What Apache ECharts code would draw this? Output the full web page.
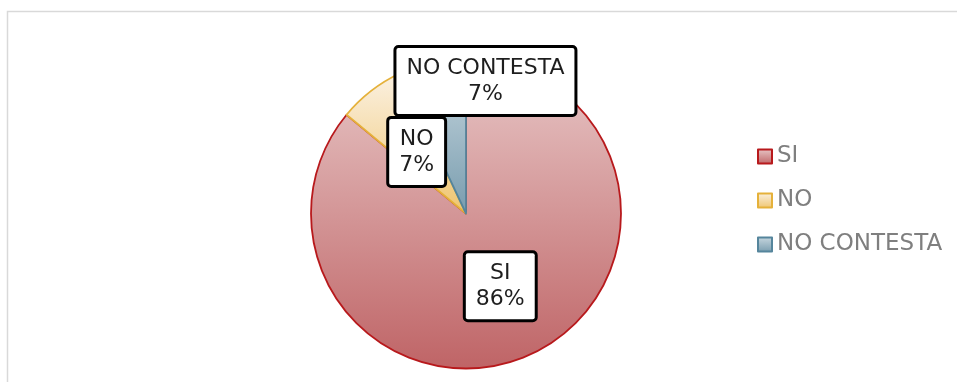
<!DOCTYPE html>
<html>
<head>
<meta charset="utf-8">
<script src="https://cdn.jsdelivr.net/npm/echarts@6/dist/echarts.min.js"></script>
<style>
html,body{margin:0;padding:0;background:#fff;}
#c{width:957px;height:382px;}
</style>
</head>
<body>
<div id="c"></div>
<script>
const categories = ['SI', 'NO', 'NO CONTESTA'];
const values = [86, 7, 7];

const fills = [
  ['#e8c8c8', '#bf6466'],
  ['#fbf1e2', '#efc56e'],
  ['#c9d8e0', '#789cae']
];
const borders = ['#b8191c', '#e5b13a', '#55859c'];

function grad(c) {
  return new echarts.graphic.LinearGradient(0, 0, 0, 1, [
    { offset: 0, color: c[0] }, { offset: 1, color: c[1] }
  ]);
}

const chart = echarts.init(document.getElementById('c'), null, { renderer: 'canvas' });
chart.setOption({
  animation: false,
  backgroundColor: '#fff',
  graphic: [{
    type: 'rect',
    shape: { x: 7.5, y: 11.5, width: 1000, height: 500 },
    style: { fill: 'none', stroke: '#d9d9d9', lineWidth: 1.5 },
    silent: true
  }],
  legend: {
    orient: 'vertical',
    left: 757,
    top: 145,
    padding: 0,
    icon: 'rect',
    itemWidth: 14,
    itemHeight: 14,
    itemGap: 21,
    textStyle: { fontFamily: 'DejaVu Sans', fontSize: 23, color: '#7f7f7f', lineHeight: 23 },
    data: categories
  },
  series: [{
    type: 'pie',
    center: [466, 213.5],
    radius: 155,
    startAngle: 90,
    clockwise: true,
    silent: true,
    data: categories.map((n, i) => ({
      name: n,
      value: values[i],
      itemStyle: { color: grad(fills[i]), borderColor: borders[i], borderWidth: 1.8 }
    })),
    label: {
      show: true,
      position: 'inside',
      formatter: '{b}\n{c}%',
      fontFamily: 'DejaVu Sans',
      fontSize: 22,
      lineHeight: 26,
      color: '#1e1e1e',
      backgroundColor: '#fff',
      borderColor: '#000',
      borderWidth: 3,
      borderRadius: 2,
      padding: [7, 10, 7, 10],
      align: 'center'
    },
    labelLine: { show: false },
    labelLayout: function (p) {
      if (p.dataIndex === 1) return { dx: 0, dy: 2 };
      if (p.dataIndex === 2) return { dx: 37, dy: -54 };
      return {};
    }
  }]
});
</script>
</body>
</html>
